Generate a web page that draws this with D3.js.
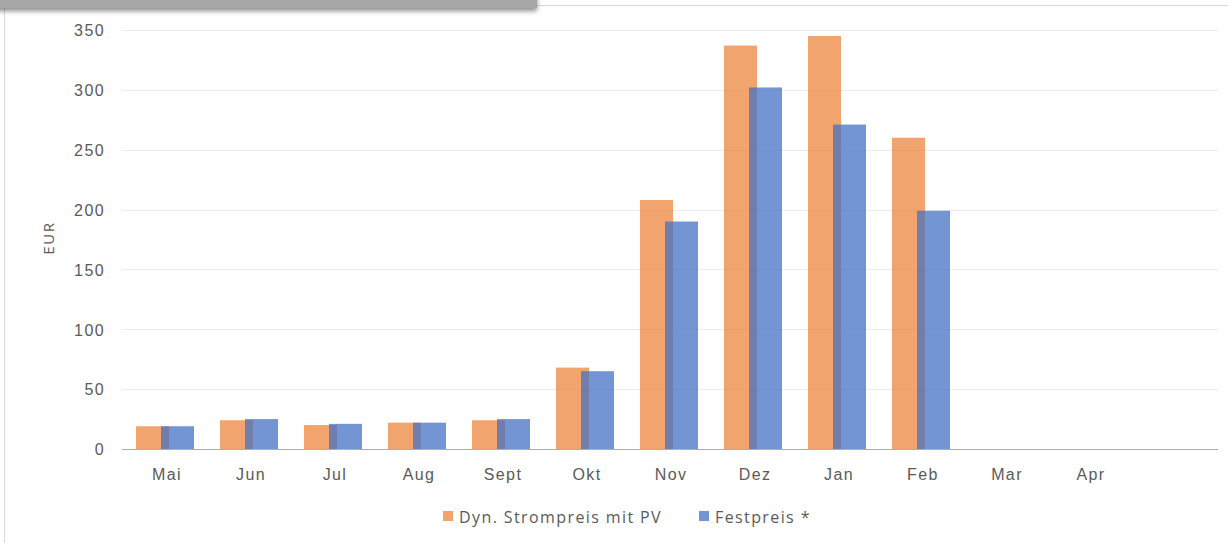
<!DOCTYPE html>
<html>
<head>
<meta charset="utf-8">
<script src="https://cdn.jsdelivr.net/npm/d3@7/dist/d3.min.js"></script>
<style>
  html, body { margin: 0; padding: 0; background: #fff; }
  svg { display: block; font-family: "Open Sans", "Noto Sans", sans-serif; }
</style>
</head>
<body>
<svg id="chart" width="1228" height="543"></svg>
<script>
// Monthly electricity cost, dynamic tariff with PV vs. fixed price
const months = ["Mai", "Jun", "Jul", "Aug", "Sept", "Okt", "Nov", "Dez", "Jan", "Feb", "Mar", "Apr"];
const dynPrice = [19, 24, 20, 22, 24, 68, 208, 337, 345, 260, 0, 0];
const fixPrice = [19, 25, 21, 22, 25, 65, 190, 302, 271, 199, 0, 0];
const yTicks = [0, 50, 100, 150, 200, 250, 300, 350];
const seriesNames = ["Dyn. Strompreis mit PV", "Festpreis *"];

const orange = "#ED7D31";
const blue = "#4472C4";
const textColor = "#5a5a5a";
const spacing = "1.4px";
const fontSize = 16;

const svg = d3.select("#chart");

// frame of the chart area
svg.append("line").attr("x1", 537).attr("x2", 1228).attr("y1", 5.5).attr("y2", 5.5)
  .attr("stroke", "#d9d9d9").attr("stroke-width", 1);
svg.append("line").attr("x1", 4.5).attr("x2", 4.5).attr("y1", 8).attr("y2", 543)
  .attr("stroke", "#d9d9d9").attr("stroke-width", 1);

// toolbar strip at the top left with its drop shadow
const defs = svg.append("defs");
const f = defs.append("filter").attr("id", "shadow").attr("x", "-5%").attr("y", "-50%").attr("width", "110%").attr("height", "300%");
f.append("feGaussianBlur").attr("in", "SourceAlpha").attr("stdDeviation", 2.5);
f.append("feOffset").attr("dy", 3).attr("result", "b");
f.append("feComponentTransfer").append("feFuncA").attr("type", "linear").attr("slope", 0.45);
const m = f.append("feMerge");
m.append("feMergeNode");
m.append("feMergeNode").attr("in", "SourceGraphic");
svg.append("rect").attr("x", -10).attr("y", -10).attr("width", 547).attr("height", 18)
  .attr("fill", "#a6a6a6").attr("filter", "url(#shadow)");

// scales
const plotLeft = 122, plotRight = 1218;
const x = d3.scaleBand().domain(months).range([plotLeft, plotLeft + 84 * months.length]).paddingInner(0).paddingOuter(0);
const y = d3.scaleLinear().domain([0, 350]).range([449, 30]);

// gridlines
svg.append("g").selectAll("line").data(yTicks.filter(d => d > 0)).join("line")
  .attr("x1", plotLeft).attr("x2", plotRight)
  .attr("y1", d => Math.round(y(d)) + 0.5).attr("y2", d => Math.round(y(d)) + 0.5)
  .attr("stroke", "#ececec").attr("stroke-width", 1);

// y axis labels
const yAxis = d3.axisLeft(y).tickValues(yTicks).tickSize(0).tickPadding(0);
const gy = svg.append("g").attr("transform", "translate(105,0)").call(yAxis);
gy.select(".domain").remove();
gy.selectAll("text").attr("fill", textColor).attr("font-size", fontSize).attr("dy", "0.36em")
  .style("letter-spacing", spacing);

svg.append("text").attr("transform", "translate(54,238) rotate(-90)")
  .attr("text-anchor", "middle").attr("fill", textColor).attr("font-size", 15)
  .style("letter-spacing", "1.6px").text("EUR");

// bars: two overlapping series per month
const barW = 33;
const bars = svg.append("g");
bars.selectAll("rect.dyn").data(months).join("rect").attr("class", "dyn")
  .attr("x", (d) => x(d) + x.bandwidth() / 2 - 28)
  .attr("width", barW)
  .attr("y", (d, i) => y(dynPrice[i]))
  .attr("height", (d, i) => y(0) - y(dynPrice[i]))
  .attr("fill", orange).attr("fill-opacity", 0.7);
bars.selectAll("rect.fix").data(months).join("rect").attr("class", "fix")
  .attr("x", (d) => x(d) + x.bandwidth() / 2 - 3)
  .attr("width", barW)
  .attr("y", (d, i) => y(fixPrice[i]))
  .attr("height", (d, i) => y(0) - y(fixPrice[i]))
  .attr("fill", blue).attr("fill-opacity", 0.75);

// x axis
svg.append("line").attr("x1", plotLeft).attr("x2", plotRight).attr("y1", 449.5).attr("y2", 449.5)
  .attr("stroke", "#a9b0b8").attr("stroke-width", 1.2);
const xAxis = d3.axisBottom(x).tickSize(0).tickPadding(0);
const gx = svg.append("g").attr("transform", "translate(3,474)").call(xAxis);
gx.select(".domain").remove();
gx.selectAll("text").attr("fill", textColor).attr("font-size", fontSize).attr("dy", "0.36em")
  .style("letter-spacing", spacing);

// legend
const legend = svg.append("g");
const legendItems = [
  { name: seriesNames[0], color: orange, op: 0.7, x: 443 },
  { name: seriesNames[1], color: blue, op: 0.75, x: 699 }
];
legendItems.forEach(it => {
  legend.append("rect").attr("x", it.x).attr("y", 511).attr("width", 10).attr("height", 10)
    .attr("fill", it.color).attr("fill-opacity", it.op);
  legend.append("text").attr("x", it.x + 16).attr("y", 517).attr("dy", "0.36em")
    .attr("fill", textColor).attr("font-size", fontSize).style("letter-spacing", spacing).text(it.name);
});
</script>
</body>
</html>
